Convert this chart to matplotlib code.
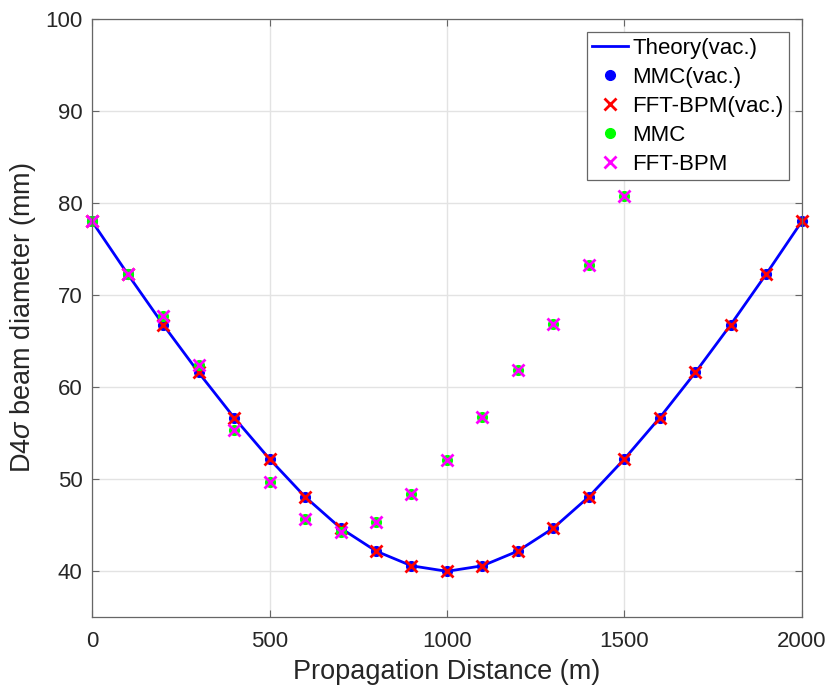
import matplotlib.pyplot as plt

plt.rcParams['font.family'] = ['Liberation Sans', 'DejaVu Sans']
plt.rcParams['mathtext.fontset'] = 'custom'
plt.rcParams['mathtext.it'] = 'Liberation Sans:italic'

z_vac = [0, 100, 200, 300, 400, 500, 600, 700, 800, 900, 1000,
         1100, 1200, 1300, 1400, 1500, 1600, 1700, 1800, 1900, 2000]
d_theory = [78.0, 72.3, 66.8, 61.6, 56.7, 52.2, 48.1, 44.7, 42.2, 40.6, 40.0,
            40.6, 42.2, 44.7, 48.1, 52.2, 56.7, 61.6, 66.8, 72.3, 78.0]
d_mmc_vac = [78.0, 72.3, 66.8, 61.6, 56.7, 52.2, 48.1, 44.7, 42.2, 40.6, 40.0,
             40.6, 42.2, 44.7, 48.1, 52.2, 56.7, 61.6, 66.8, 72.3, 78.0]
d_bpm_vac = [78.0, 72.3, 66.8, 61.6, 56.7, 52.2, 48.1, 44.7, 42.2, 40.6, 40.0,
             40.6, 42.2, 44.7, 48.1, 52.2, 56.7, 61.6, 66.8, 72.3, 78.0]

z_turb = [0, 100, 200, 300, 400, 500, 600, 700, 800, 900, 1000,
          1100, 1200, 1300, 1400, 1500]
d_mmc = [78.0, 72.3, 67.7, 62.4, 55.3, 49.7, 45.7, 44.3, 45.4, 48.4, 52.1,
         56.8, 61.9, 66.9, 73.3, 80.8]
d_bpm = [78.0, 72.3, 67.7, 62.4, 55.3, 49.7, 45.7, 44.3, 45.4, 48.4, 52.1,
         56.8, 61.9, 66.9, 73.3, 80.8]

fig = plt.figure(figsize=(8.3, 6.89), dpi=100)
ax = fig.add_axes([0.111, 0.104, 0.855, 0.8685])

ax.plot(z_vac, d_theory, color='#0000ff', lw=2, label='Theory(vac.)')
ax.plot(z_vac, d_mmc_vac, 'o', color='#0000ff', ms=7, ls='none', clip_on=False, label='MMC(vac.)')
ax.plot(z_vac, d_bpm_vac, 'x', color='#ff0000', ms=8, mew=2, ls='none', clip_on=False, label='FFT-BPM(vac.)')
ax.plot(z_turb, d_mmc, 'o', color='#00ff00', ms=7, ls='none', clip_on=False, label='MMC')
ax.plot(z_turb, d_bpm, 'x', color='#ff00ff', ms=8, mew=2, ls='none', clip_on=False, label='FFT-BPM')

ax.set_xlim(0, 2000)
ax.set_ylim(35, 100)
ax.set_xticks([0, 500, 1000, 1500, 2000])
ax.set_yticks([40, 50, 60, 70, 80, 90, 100])
ax.grid(True, color='#e3e3e3', lw=1)
ax.set_axisbelow(True)
ax.tick_params(direction='in', labelsize=16, labelcolor='#262626', color='#666666',
               length=5, width=0.8, pad=7, top=True, right=True)
ax.tick_params(axis='x', pad=10)
for s in ax.spines.values():
    s.set_color('#666666')
    s.set_linewidth(0.9)

ax.set_xlabel('Propagation Distance (m)', fontsize=19.5, color='#262626', labelpad=5)
ax.set_ylabel(r'D4$\sigma$ beam diameter (mm)', fontsize=19.5, color='#262626', labelpad=5)

leg = ax.legend(loc='upper right', fontsize=16, fancybox=False, framealpha=1,
                edgecolor='#666666', borderpad=0.25, labelspacing=0.36,
                handlelength=1.6, handletextpad=0.2, borderaxespad=0,
                bbox_to_anchor=(0.982, 0.978))
leg.get_frame().set_linewidth(0.9)

fig.savefig('out.png', dpi=100)
